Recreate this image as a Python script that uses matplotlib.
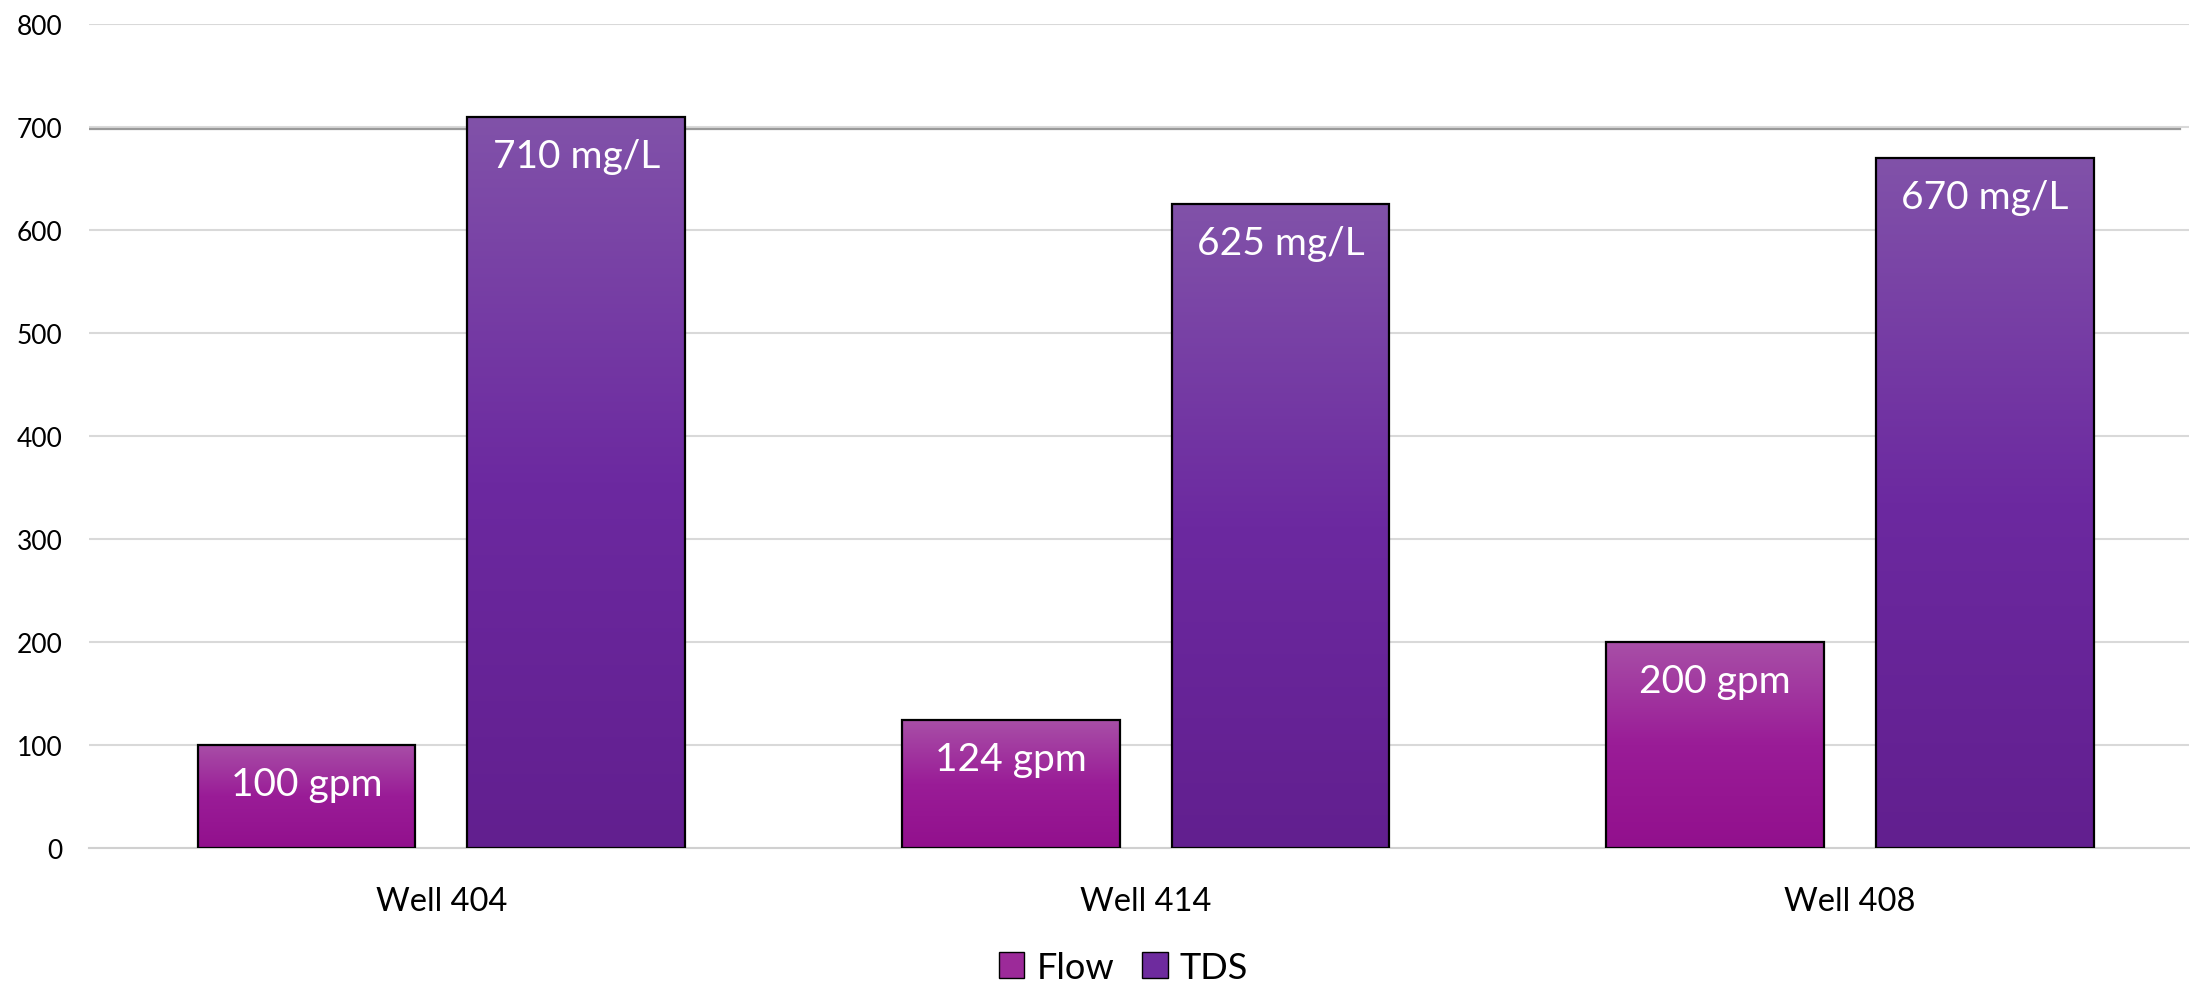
import matplotlib.pyplot as plt
import numpy as np
from matplotlib.colors import LinearSegmentedColormap
from matplotlib.patches import Patch

wells = ["Well 404", "Well 414", "Well 408"]
flow = [100, 124, 200]
tds = [710, 625, 670]
flow_labels = ["100 gpm", "124 gpm", "200 gpm"]
tds_labels = ["710 mg/L", "625 mg/L", "670 mg/L"]
ref_line = 698

plt.rcParams['font.family'] = ['Lato', 'DejaVu Sans']

fig = plt.figure(figsize=(21.9, 9.87), dpi=100)
ax = fig.add_axes([0.0407, 0.1398, 0.959, 0.8349])

flow_cmap = LinearSegmentedColormap.from_list("flow", ["#92108D", "#9A1C97", "#A84FA7"])
tds_cmap = LinearSegmentedColormap.from_list("tds", ["#621F8F", "#6C29A0", "#8152A9"])

x = np.arange(len(wells))
w = 0.309
off = 0.1915

b1 = ax.bar(x - off, flow, w, facecolor="none", edgecolor="black", linewidth=1.6, zorder=4)
b2 = ax.bar(x + off, tds, w, facecolor="none", edgecolor="black", linewidth=1.6, zorder=4)

grad = np.linspace(0, 1, 256).reshape(-1, 1)
for bars, cmap in [(b1, flow_cmap), (b2, tds_cmap)]:
    for r in bars:
        x0, h, bw = r.get_x(), r.get_height(), r.get_width()
        ax.imshow(grad, extent=[x0, x0 + bw, 0, h], origin="lower", aspect="auto",
                  cmap=cmap, zorder=3)

for r, lab in zip(list(b1) + list(b2), flow_labels + tds_labels):
    ax.text(r.get_x() + r.get_width() / 2, r.get_height() - 38, lab, ha="center", va="center",
            color="white", fontsize=28, zorder=5)

ax.set_xlim(-0.5, 2.482)
ax.set_ylim(0, 800)
ax.set_yticks(range(0, 801, 100))
ax.set_xticks(x)
ax.set_xticklabels(wells, fontsize=23.5)
ax.tick_params(axis="y", labelsize=19, length=0, pad=19)
ax.tick_params(axis="x", length=0, pad=27)
ax.grid(axis="y", color="#D9D9D9", linewidth=1.5, zorder=0)
ax.set_axisbelow(True)
for s in ["top", "right", "left"]:
    ax.spines[s].set_visible(False)
ax.spines["bottom"].set_color("#D0D0D0")
ax.spines["bottom"].set_linewidth(1.5)
ax.axhline(ref_line, xmin=0, xmax=0.9955, color="#9A9A9A", linewidth=1.6, zorder=2)

handles = [Patch(facecolor="#9C2A99", edgecolor="black", label="Flow"),
           Patch(facecolor="#6E2B9E", edgecolor="black", label="TDS")]
fig.legend(handles=handles, loc="center", bbox_to_anchor=(0.513, 0.019), ncol=2, frameon=False,
           fontsize=26, handlelength=0.7, handleheight=0.7, handletextpad=0.33, columnspacing=0.78)

fig.savefig("out.png", dpi=100)
